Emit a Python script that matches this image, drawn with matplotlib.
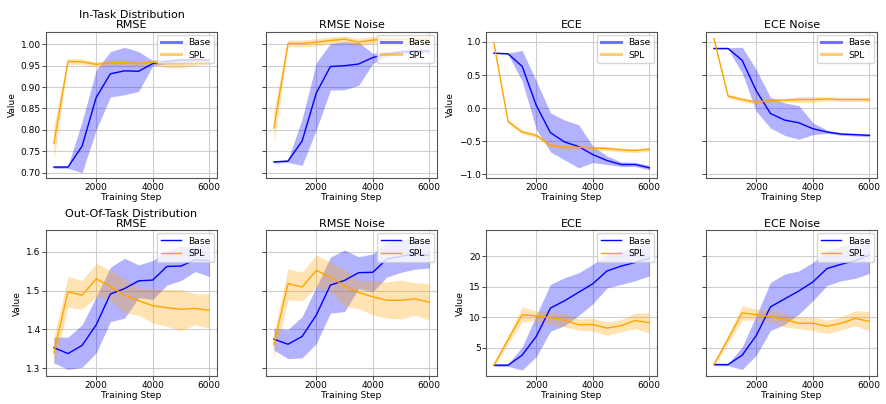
import matplotlib
matplotlib.use("Agg")
import matplotlib.pyplot as plt
from matplotlib.lines import Line2D
from matplotlib.ticker import MultipleLocator

plt.rcParams["font.family"] = ["DejaVu Sans"]

steps = [500, 1000, 1500, 2000, 2500, 3000, 3500, 4000, 4500, 5000, 5500, 6000]

# ---- In-task distribution ----
it_rmse_base = [0.713, 0.713, 0.762, 0.876, 0.931, 0.938, 0.937, 0.955, 0.960, 0.963, 0.964, 0.963]
it_rmse_base_lo = [0.710, 0.710, 0.700, 0.800, 0.877, 0.882, 0.890, 0.950, 0.955, 0.958, 0.960, 0.959]
it_rmse_base_hi = [0.716, 0.716, 0.820, 0.940, 0.983, 0.993, 0.983, 0.962, 0.966, 0.968, 0.968, 0.967]
it_rmse_spl = [0.768, 0.960, 0.959, 0.953, 0.957, 0.957, 0.955, 0.958, 0.955, 0.955, 0.958, 0.960]
it_rmse_spl_lo = [0.730, 0.953, 0.953, 0.947, 0.951, 0.951, 0.949, 0.952, 0.945, 0.945, 0.951, 0.954]
it_rmse_spl_hi = [0.810, 0.967, 0.966, 0.959, 0.963, 0.963, 0.961, 0.964, 0.962, 0.962, 0.965, 0.966]

it_rmsen_base = [0.725, 0.727, 0.774, 0.886, 0.948, 0.950, 0.954, 0.969, 0.977, 0.982, 0.984, 0.984]
it_rmsen_base_lo = [0.722, 0.724, 0.717, 0.800, 0.893, 0.894, 0.904, 0.955, 0.971, 0.977, 0.979, 0.979]
it_rmsen_base_hi = [0.728, 0.730, 0.826, 0.957, 1.002, 1.006, 1.004, 0.979, 0.983, 0.987, 0.989, 0.989]
it_rmsen_spl = [0.804, 1.002, 1.002, 1.005, 1.009, 1.012, 1.005, 1.010, 1.012, 1.012, 1.012, 1.012]
it_rmsen_spl_lo = [0.767, 0.994, 0.994, 0.997, 1.001, 1.004, 0.997, 1.002, 1.004, 1.004, 1.004, 1.004]
it_rmsen_spl_hi = [0.845, 1.010, 1.010, 1.013, 1.017, 1.020, 1.013, 1.018, 1.020, 1.020, 1.020, 1.020]

it_ece_base = [0.83, 0.82, 0.63, 0.04, -0.37, -0.51, -0.58, -0.70, -0.79, -0.85, -0.85, -0.90]
it_ece_base_lo = [0.82, 0.81, 0.41, -0.32, -0.66, -0.78, -0.90, -0.82, -0.85, -0.88, -0.88, -0.93]
it_ece_base_hi = [0.84, 0.83, 0.87, 0.41, -0.07, -0.18, -0.25, -0.57, -0.72, -0.81, -0.82, -0.86]
it_ece_spl = [0.98, -0.20, -0.36, -0.41, -0.56, -0.59, -0.59, -0.60, -0.61, -0.63, -0.64, -0.62]
it_ece_spl_lo = [0.96, -0.23, -0.39, -0.44, -0.59, -0.62, -0.62, -0.63, -0.64, -0.66, -0.67, -0.65]
it_ece_spl_hi = [1.00, -0.17, -0.33, -0.38, -0.53, -0.56, -0.56, -0.57, -0.58, -0.60, -0.61, -0.59]

it_ecen_base = [0.90, 0.90, 0.72, 0.26, -0.08, -0.18, -0.22, -0.31, -0.36, -0.39, -0.40, -0.41]
it_ecen_base_lo = [0.89, 0.89, 0.53, -0.05, -0.30, -0.41, -0.47, -0.40, -0.38, -0.41, -0.42, -0.43]
it_ecen_base_hi = [0.91, 0.91, 0.92, 0.58, 0.16, 0.08, 0.04, -0.22, -0.33, -0.37, -0.38, -0.39]
it_ecen_spl = [1.05, 0.18, 0.13, 0.09, 0.12, 0.12, 0.13, 0.13, 0.14, 0.13, 0.13, 0.13]
it_ecen_spl_lo = [1.03, 0.15, 0.10, 0.06, 0.09, 0.09, 0.085, 0.085, 0.11, 0.10, 0.10, 0.10]
it_ecen_spl_hi = [1.07, 0.21, 0.16, 0.12, 0.15, 0.15, 0.175, 0.175, 0.17, 0.16, 0.16, 0.16]

# ---- Out-of-task distribution ----
ot_rmse_base = [1.353, 1.338, 1.359, 1.412, 1.491, 1.505, 1.525, 1.527, 1.562, 1.563, 1.579, 1.577]
ot_rmse_base_lo = [1.314, 1.297, 1.303, 1.340, 1.420, 1.429, 1.482, 1.477, 1.514, 1.526, 1.549, 1.536]
ot_rmse_base_hi = [1.380, 1.380, 1.412, 1.484, 1.560, 1.583, 1.566, 1.577, 1.603, 1.615, 1.612, 1.624]
ot_rmse_spl = [1.340, 1.497, 1.488, 1.530, 1.511, 1.488, 1.474, 1.461, 1.456, 1.452, 1.454, 1.449]
ot_rmse_spl_lo = [1.305, 1.457, 1.452, 1.484, 1.475, 1.442, 1.437, 1.416, 1.408, 1.397, 1.412, 1.403]
ot_rmse_spl_hi = [1.380, 1.536, 1.526, 1.570, 1.552, 1.530, 1.505, 1.505, 1.503, 1.503, 1.492, 1.492]

ot_rmsen_base = [1.375, 1.362, 1.382, 1.437, 1.514, 1.526, 1.546, 1.547, 1.581, 1.588, 1.595, 1.590]
ot_rmsen_base_lo = [1.347, 1.325, 1.327, 1.364, 1.442, 1.446, 1.505, 1.497, 1.535, 1.547, 1.555, 1.558]
ot_rmsen_base_hi = [1.403, 1.400, 1.433, 1.509, 1.586, 1.604, 1.587, 1.594, 1.625, 1.630, 1.635, 1.628]
ot_rmsen_spl = [1.361, 1.518, 1.509, 1.552, 1.535, 1.512, 1.495, 1.484, 1.475, 1.475, 1.479, 1.470]
ot_rmsen_spl_lo = [1.327, 1.477, 1.474, 1.508, 1.497, 1.460, 1.454, 1.437, 1.429, 1.427, 1.437, 1.423]
ot_rmsen_spl_hi = [1.391, 1.556, 1.547, 1.592, 1.573, 1.555, 1.526, 1.525, 1.522, 1.527, 1.520, 1.518]

ot_ece_base = [2.1, 2.1, 3.75, 6.85, 11.5, 12.7, 14.1, 15.5, 17.6, 18.4, 19.0, 19.7]
ot_ece_base_lo = [1.9, 1.9, 1.3, 3.5, 7.7, 8.6, 10.3, 12.2, 14.8, 15.4, 16.0, 16.8]
ot_ece_base_hi = [2.3, 2.3, 5.1, 10.3, 15.4, 16.5, 17.3, 18.7, 20.3, 20.9, 21.4, 22.6]
ot_ece_spl = [2.1, 6.3, 10.4, 10.2, 9.9, 9.5, 8.75, 8.8, 8.2, 8.6, 9.45, 9.1]
ot_ece_spl_lo = [1.8, 5.6, 9.2, 9.4, 8.9, 8.4, 7.9, 7.7, 7.0, 7.6, 8.1, 7.4]
ot_ece_spl_hi = [2.4, 7.0, 11.7, 11.0, 10.8, 10.6, 9.7, 9.8, 9.2, 9.6, 10.7, 10.7]

ot_ecen_base = [2.2, 2.2, 3.75, 7.0, 11.7, 13.0, 14.3, 15.8, 18.0, 18.7, 19.3, 20.2]
ot_ecen_base_lo = [2.0, 2.0, 1.4, 3.75, 7.8, 8.8, 10.5, 12.7, 15.2, 16.0, 16.4, 17.2]
ot_ecen_base_hi = [2.4, 2.4, 5.1, 10.3, 15.7, 17.1, 17.6, 19.0, 20.9, 21.7, 22.2, 23.2]
ot_ecen_spl = [2.2, 6.4, 10.7, 10.4, 10.1, 9.6, 9.0, 9.0, 8.5, 9.0, 9.8, 9.3]
ot_ecen_spl_lo = [1.9, 5.7, 9.5, 9.5, 9.2, 8.4, 8.1, 7.8, 7.3, 7.9, 8.6, 7.7]
ot_ecen_spl_hi = [2.5, 7.1, 11.9, 11.3, 11.1, 10.6, 10.0, 10.0, 9.5, 10.0, 11.1, 10.9]

titles = ["In-Task Distribution\nRMSE", "RMSE Noise", "ECE", "ECE Noise",
          "Out-Of-Task Distribution\nRMSE", "RMSE Noise", "ECE", "ECE Noise"]

panels = [
    (it_rmse_base, it_rmse_base_lo, it_rmse_base_hi, it_rmse_spl, it_rmse_spl_lo, it_rmse_spl_hi),
    (it_rmsen_base, it_rmsen_base_lo, it_rmsen_base_hi, it_rmsen_spl, it_rmsen_spl_lo, it_rmsen_spl_hi),
    (it_ece_base, it_ece_base_lo, it_ece_base_hi, it_ece_spl, it_ece_spl_lo, it_ece_spl_hi),
    (it_ecen_base, it_ecen_base_lo, it_ecen_base_hi, it_ecen_spl, it_ecen_spl_lo, it_ecen_spl_hi),
    (ot_rmse_base, ot_rmse_base_lo, ot_rmse_base_hi, ot_rmse_spl, ot_rmse_spl_lo, ot_rmse_spl_hi),
    (ot_rmsen_base, ot_rmsen_base_lo, ot_rmsen_base_hi, ot_rmsen_spl, ot_rmsen_spl_lo, ot_rmsen_spl_hi),
    (ot_ece_base, ot_ece_base_lo, ot_ece_base_hi, ot_ece_spl, ot_ece_spl_lo, ot_ece_spl_hi),
    (ot_ecen_base, ot_ecen_base_lo, ot_ecen_base_hi, ot_ecen_spl, ot_ecen_spl_lo, ot_ecen_spl_hi),
]

y_steps = [0.05, 0.05, 0.5, 0.5, 0.1, 0.1, 5, 5]

BASE_C = "#0000ff"
SPL_C = "#ffa500"

fig = plt.figure(figsize=(8.86, 4.04), dpi=100)
axes = fig.subplots(2, 4)
fig.subplots_adjust(left=0.052, right=0.990, top=0.921, bottom=0.069,
                    wspace=0.287, hspace=0.36)

# pairs of panels share a y-axis
for r in range(2):
    axes[r, 1].sharey(axes[r, 0])
    axes[r, 3].sharey(axes[r, 2])

for i, ax in enumerate(axes.flat):
    bm, blo, bhi, sm, slo, shi = panels[i]
    ax.fill_between(steps, blo, bhi, color=BASE_C, alpha=0.3, lw=0)
    ax.plot(steps, bm, color=BASE_C, lw=1.0)
    ax.fill_between(steps, slo, shi, color=SPL_C, alpha=0.3, lw=0)
    ax.plot(steps, sm, color=SPL_C, lw=1.0)

    ax.set_title(titles[i], fontsize=8.0, pad=2.5, linespacing=1.0)
    ax.set_xlabel("Training Step", fontsize=6.6, labelpad=0.5)
    ax.xaxis.set_major_locator(MultipleLocator(2000))
    ax.yaxis.set_major_locator(MultipleLocator(y_steps[i]))
    ax.set_xlim(225, 6275)
    ax.grid(True, color="#cfcfcf", lw=0.8)
    ax.set_axisbelow(True)
    ax.tick_params(labelsize=6.5, length=2.6, width=0.7, pad=1.2, color="#444444")
    for sp in ax.spines.values():
        sp.set_color("#555555")
        sp.set_linewidth(0.8)

    if i % 2 == 0:
        ax.set_ylabel("Value", fontsize=6.5, labelpad=3)
    else:
        ax.tick_params(labelleft=False)

    if i < 4:
        handles = [Line2D([], [], color=BASE_C, lw=2.2, alpha=0.55),
                   Line2D([], [], color=SPL_C, lw=2.2, alpha=0.55)]
    else:
        handles = [Line2D([], [], color=BASE_C, lw=1.0),
                   Line2D([], [], color=SPL_C, lw=1.0)]
    ax.legend(handles, ["Base", "SPL"], loc="upper right", fontsize=6.6,
              handlelength=2.2, borderpad=0.4, labelspacing=0.35,
              handletextpad=0.8, borderaxespad=0.3, framealpha=0.8)

axes[0, 0].set_ylim(0.688, 1.029)
axes[0, 2].set_ylim(-1.05, 1.15)
axes[1, 0].set_ylim(1.28, 1.655)
axes[1, 2].set_ylim(0.3, 24.3)

fig.savefig("out.png", dpi=100)
